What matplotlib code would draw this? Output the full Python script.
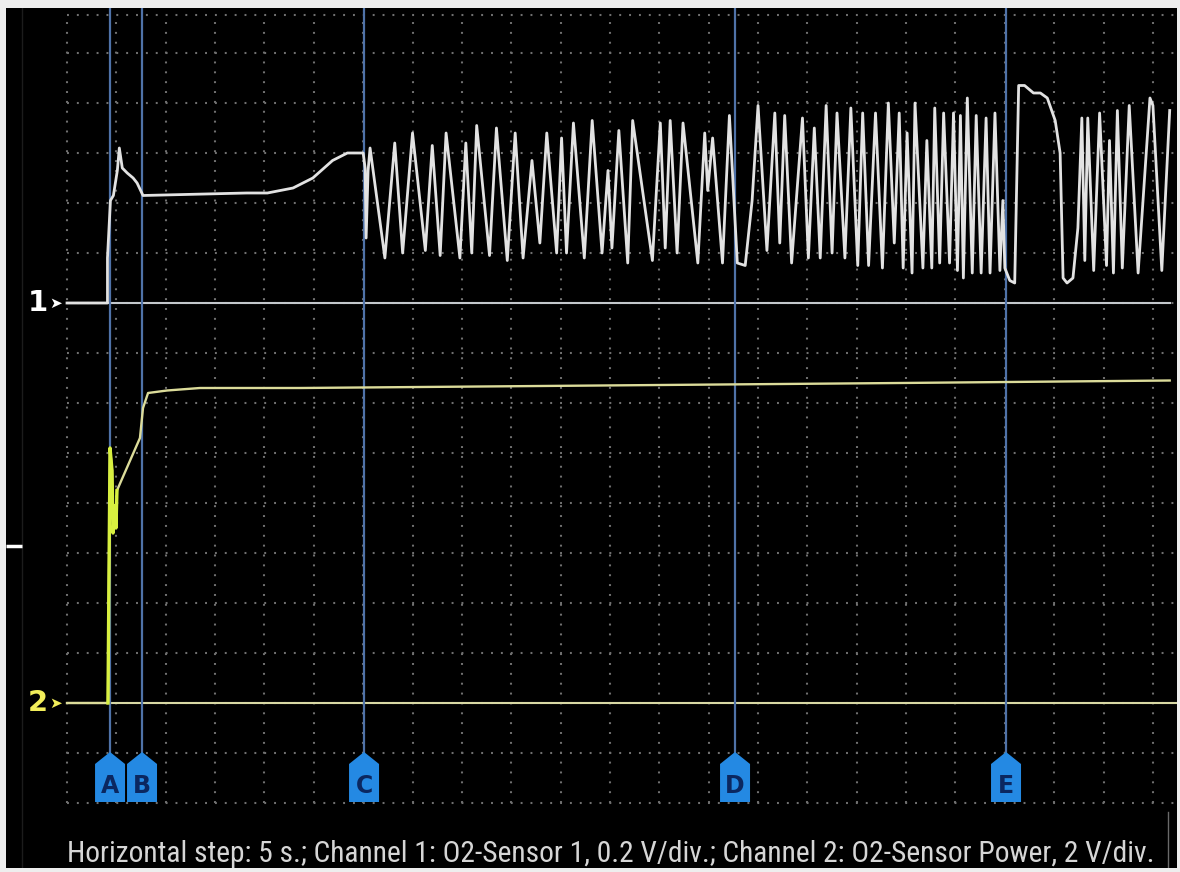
import matplotlib
matplotlib.use("Agg")
import matplotlib.pyplot as plt
from matplotlib.patches import Polygon
from matplotlib import font_manager

plt.rcParams["lines.scale_dashes"] = False

# ---------------- data ----------------
# Channel 1: O2-Sensor 1 (time in s, voltage in V)
ch1_t = [0.0, 4.1, 4.1, 4.4, 4.7, 5.1, 5.3, 5.6, 6.1, 6.7, 7.1, 7.7,
         18.2, 20.3, 22.9, 24.9, 26.9, 28.4, 30.0, 30.2, 30.3, 30.5, 30.7,
         32.2, 33.2, 34.0, 35.0, 36.3, 37.0, 37.8, 38.4, 39.8, 40.4, 41.0, 41.5,
         42.8, 43.5, 44.6, 45.4, 46.2, 47.1, 47.9, 48.6, 49.6, 50.1, 50.6, 51.3,
         52.4, 53.2, 54.2, 54.8, 55.2, 55.9, 56.8, 57.3, 59.3, 60.1, 60.6, 61.1,
         61.8, 62.4, 63.9, 64.6, 64.9, 65.4, 66.4, 67.1, 67.9, 68.7, 69.4, 70.0,
         70.9, 71.7, 72.2, 72.7, 73.4, 74.5, 75.1, 75.7, 76.3, 76.9, 77.5, 78.0,
         78.8, 79.4, 80.1, 80.6, 81.2, 81.9, 82.6, 83.2, 83.8, 84.3, 84.7, 85.1,
         85.6, 85.9, 86.7, 87.1, 87.6, 87.9, 88.4, 88.8, 89.4, 89.8, 90.2, 90.5,
         90.8, 91.2, 91.7, 92.1, 92.6, 93.1, 93.5, 94.0, 94.5, 94.8, 95.0, 95.5,
         96.0, 96.4, 97.0, 97.9, 98.6, 99.3, 100.1, 100.6, 100.9, 101.3, 101.9,
         102.4, 102.8, 103.1, 103.4, 104.0, 104.6, 105.3, 105.6, 106.0, 106.4,
         106.9, 107.6, 108.5, 109.7, 110.0, 110.9, 111.7]
ch1_v = [0.00, 0.00, 0.18, 0.41, 0.43, 0.53, 0.62, 0.54, 0.52, 0.50, 0.48, 0.43,
         0.44, 0.44, 0.46, 0.50, 0.57, 0.60, 0.60, 0.54, 0.26, 0.53, 0.62,
         0.18, 0.64, 0.20, 0.68, 0.21, 0.63, 0.19, 0.68, 0.18, 0.64, 0.20, 0.71,
         0.19, 0.70, 0.17, 0.68, 0.18, 0.57, 0.24, 0.68, 0.20, 0.66, 0.20, 0.72,
         0.18, 0.73, 0.20, 0.53, 0.22, 0.69, 0.16, 0.73, 0.17, 0.72, 0.22, 0.73,
         0.20, 0.72, 0.16, 0.68, 0.45, 0.66, 0.16, 0.75, 0.16, 0.15, 0.41, 0.79,
         0.21, 0.76, 0.24, 0.75, 0.16, 0.74, 0.18, 0.70, 0.18, 0.79, 0.20, 0.76,
         0.18, 0.78, 0.15, 0.76, 0.15, 0.76, 0.14, 0.80, 0.24, 0.76, 0.14, 0.68,
         0.12, 0.80, 0.14, 0.65, 0.14, 0.78, 0.16, 0.76, 0.16, 0.76, 0.13, 0.75,
         0.10, 0.82, 0.12, 0.75, 0.12, 0.74, 0.12, 0.76, 0.13, 0.41, 0.14, 0.09,
         0.08, 0.87, 0.87, 0.84, 0.84, 0.82, 0.73, 0.60, 0.10, 0.08, 0.10,
         0.30, 0.74, 0.17, 0.74, 0.13, 0.76, 0.15, 0.65, 0.12, 0.77,
         0.14, 0.79, 0.12, 0.82, 0.79, 0.13, 0.77]

# Channel 2: O2-Sensor Power (time in s, voltage in V)
ch2_t = [0.0, 4.15, 4.25, 4.36, 4.56, 4.66, 4.86, 4.96, 5.06, 7.39, 7.70, 8.21,
         10.13, 13.47, 23.6, 54.0, 84.4, 111.7]
ch2_v = [0.0, 0.0, 5.1, 10.2, 9.3, 6.8, 7.9, 7.0, 8.5, 10.6, 11.8, 12.4,
         12.5, 12.6, 12.6, 12.7, 12.8, 12.9]

cursor_labels = ["A", "B", "C", "D", "E"]
cursor_t = [4.36, 7.60, 30.09, 67.67, 95.12]

caption = ("Horizontal step: 5 s.; Channel 1: O2-Sensor 1, 0.2 V/div.; "
           "Channel 2: O2-Sensor Power, 2 V/div.")

sec_per_div = 5.0
ch1_volts_per_div = 0.2
ch2_volts_per_div = 2.0
ch1_ref_div = 8.0      # channel 1 zero line, divisions above channel 2 zero
ch2_ref_div = 0.0
trigger_div = 3.14

# ---------------- layout ----------------
W, H = 1180, 872
PX_PER_DIV_X = 49.36
PX_PER_DIV_Y = 50.0
X0_PX, Y0_PX = 67, 703  # pixel of t=0 and of channel-2 zero line


def t_of(px):
    return (px - X0_PX) / PX_PER_DIV_X * sec_per_div


def d_of(py):
    return (Y0_PX - py) / PX_PER_DIV_Y


L, R, T, B = 6, 1177, 8, 868
fig = plt.figure(figsize=(W / 100, H / 100), dpi=100, facecolor="#eeeeee")
ax = fig.add_axes([L / W, 1 - B / H, (R - L) / W, (B - T) / H])
ax.set_facecolor("black")
ax.set_xlim(t_of(L), t_of(R))
ax.set_ylim(d_of(B), d_of(T))
ax.set_xticks([])
ax.set_yticks([])
for s in ax.spines.values():
    s.set_visible(False)

grid_col = "#707070"
dots = (0, (1.4, 5.7))
# vertical grid
for k in range(23):
    ax.plot([k * sec_per_div] * 2, [-2, d_of(15)], color=grid_col, lw=1.5,
            ls=dots, zorder=1)
# horizontal grid
for k in range(-2, 14):
    ax.plot([0, t_of(R)], [k, k], color=grid_col, lw=1.5, ls=dots, zorder=1)
ax.plot([0, t_of(R)], [d_of(15)] * 2, color=grid_col, lw=1.5, ls=dots, zorder=1)

# faint frame lines
ax.plot([t_of(22)] * 2, [d_of(B), d_of(T)], color="#1c1c1c", lw=1, zorder=0.5)
ax.plot([t_of(1168)] * 2, [d_of(B), d_of(812)], color="#6a6a6a", lw=1, zorder=0.5)

# reference lines
ax.plot([t_of(68), t_of(1170)], [ch1_ref_div] * 2, color="#c4c8cc", lw=1.5, zorder=2)
ax.plot([t_of(68), t_of(R)], [ch2_ref_div] * 2, color="#d8d8a4", lw=1.5, zorder=2)

# trigger marker
ax.plot([t_of(L), t_of(22)], [trigger_div] * 2, color="white", lw=2.5,
        solid_capstyle="butt", zorder=3)

# channel labels
lab_font = ["DejaVu Sans"]
ax.text(t_of(38), ch1_ref_div, "1", color="white", fontsize=21, fontweight="bold",
        family=lab_font, ha="center", va="center", zorder=4)
ax.text(t_of(56), ch1_ref_div, "➤", color="white", fontsize=11,
        family=lab_font, ha="center", va="center", zorder=4)
ax.text(t_of(38), ch2_ref_div, "2", color="#f2ee5a", fontsize=21, fontweight="bold",
        family=lab_font, ha="center", va="center", zorder=4)
ax.text(t_of(56), ch2_ref_div, "➤", color="#f2ee5a", fontsize=11,
        family=lab_font, ha="center", va="center", zorder=4)

# cursors
tag_half = 15 / PX_PER_DIV_X * sec_per_div
tag_top, tag_sh, tag_bot = d_of(752), d_of(764), d_of(802)
for lab, tc in zip(cursor_labels, cursor_t):
    ax.plot([tc, tc], [tag_top, d_of(T)], color="#4f72a8", lw=1.6, zorder=2.5)
    poly = Polygon([(tc, tag_top), (tc + tag_half, tag_sh), (tc + tag_half, tag_bot),
                    (tc - tag_half, tag_bot), (tc - tag_half, tag_sh)],
                   closed=True, facecolor="#2489e3", edgecolor="none", zorder=3)
    ax.add_patch(poly)
    ax.text(tc, d_of(786), lab, color="#0b2760", fontsize=17, fontweight="bold",
            family=lab_font, ha="center", va="center", zorder=4)

# traces
ch1_y = [ch1_ref_div + v / ch1_volts_per_div for v in ch1_v]
ch2_y = [ch2_ref_div + v / ch2_volts_per_div for v in ch2_v]
ax.plot(ch2_t, ch2_y, color="#dcdc9a", lw=1.7, zorder=5)
ax.plot(ch2_t[1:9], ch2_y[1:9], color="#d8f040", lw=2.4, zorder=5.5)
ax.plot(ch1_t, ch1_y, color="#e2e2e2", lw=2.0, zorder=6)

# caption
fam = "Liberation Sans"
for cand in ["Liberation Sans Narrow", "Roboto Condensed", "Liberation Sans"]:
    try:
        font_manager.findfont(cand, fallback_to_default=False)
        fam = cand
        break
    except Exception:
        pass
cap = ax.text(t_of(611), d_of(854), caption, color="#d6d6d6", fontsize=17,
              family=fam, ha="center", va="center", zorder=4)
r = fig.canvas.get_renderer()
wpx = cap.get_window_extent(renderer=r).width
cap.set_fontsize(17 * 1085 / wpx)

fig.savefig("out.png", dpi=100, facecolor=fig.get_facecolor())
